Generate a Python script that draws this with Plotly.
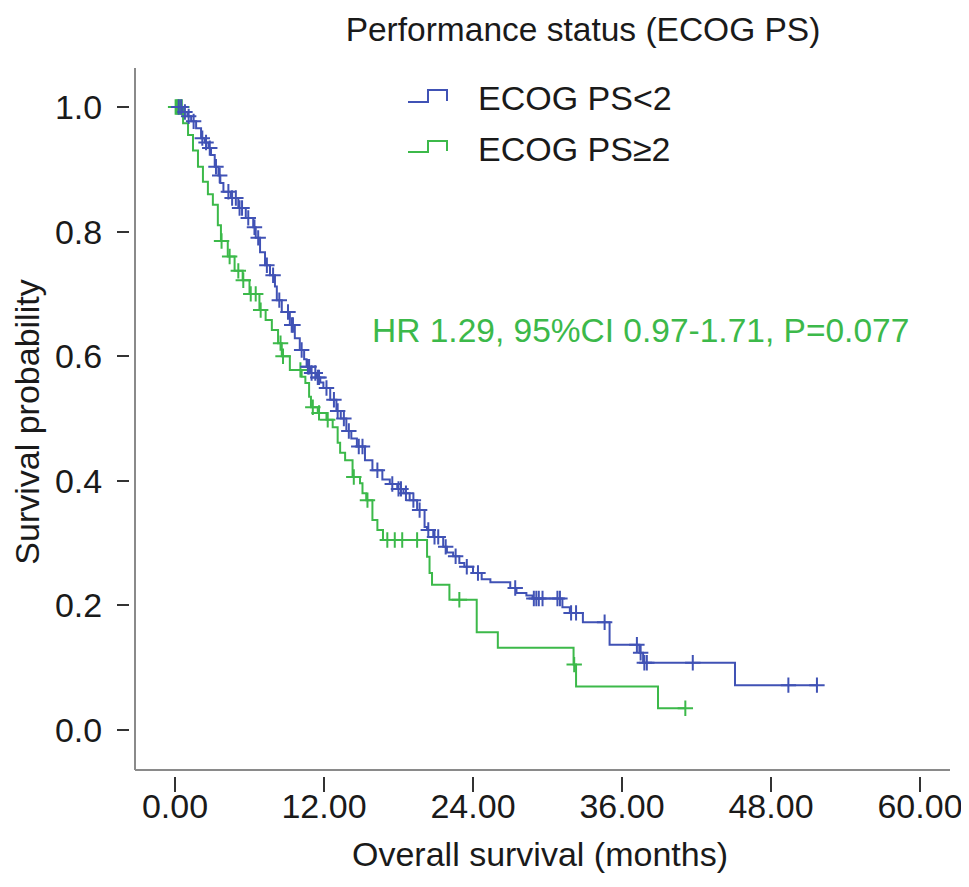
import plotly.graph_objects as go

# ---------------- data ----------------
series_names = ["ECOG PS<2", "ECOG PS\u22652"]

blue_event_t = [0.6, 1.0, 1.3, 1.7, 2.1, 2.4, 2.7, 2.9, 3.2, 3.5, 3.65, 3.9, 4.5, 5.1, 5.7,
                6.3, 6.5, 6.85, 7.25, 7.65, 8.05, 8.2, 8.6, 9.25, 9.65, 10.05, 10.4, 10.6, 10.9, 11.4,
                11.7, 11.95, 12.5, 13.0, 13.35, 13.8, 14.2, 14.65, 15.3, 15.9, 16.7, 17.3, 17.9, 18.4, 18.9,
                19.5, 20.1, 20.3, 20.8, 21.6, 21.9, 22.4, 22.9, 23.3, 24.0, 24.7, 25.4, 27.0, 27.5, 28.3,
                28.8, 31.2, 31.8, 32.85, 35.0, 37.4, 37.7, 45.1]
blue_event_s = [0.992, 0.985, 0.977, 0.966, 0.95, 0.943, 0.934, 0.923, 0.904, 0.89, 0.878, 0.864, 0.854, 0.838, 0.822,
                0.807, 0.79, 0.767, 0.746, 0.73, 0.712, 0.69, 0.671, 0.65, 0.629, 0.61, 0.595, 0.583, 0.573, 0.566,
                0.558, 0.549, 0.53, 0.512, 0.5, 0.48, 0.468, 0.455, 0.433, 0.417, 0.402, 0.395, 0.387, 0.38, 0.369,
                0.353, 0.326, 0.321, 0.31, 0.294, 0.285, 0.279, 0.268, 0.262, 0.252, 0.242, 0.237, 0.228, 0.22, 0.216,
                0.211, 0.197, 0.188, 0.173, 0.137, 0.124, 0.108, 0.072]
blue_censor_t = [0.3, 0.5, 0.8, 1.1, 1.5, 2.2, 2.5, 2.8, 3.3, 3.6, 4.3, 4.6, 4.9, 5.2, 5.4, 5.9, 6.4, 6.7,
                 7.4, 7.9, 8.4, 9.1, 9.4, 9.5, 10.2, 10.7, 10.8, 11.0, 11.3, 11.5, 11.6, 12.2, 12.8, 13.1,
                 13.6, 14.0, 14.8, 15.1, 16.3, 17.5, 18.0, 18.2, 18.6, 19.2, 19.7, 20.4, 20.9, 21.2, 21.8,
                 22.6, 23.5, 24.4, 27.4, 28.9, 29.1, 29.3, 29.6, 30.8, 31.0, 31.9, 32.3, 34.6, 37.2, 37.5,
                 37.8, 38.0, 41.7, 49.4, 51.7]

green_event_t = [0.65, 1.05, 1.45, 1.85, 2.25, 2.65, 3.05, 3.45, 3.7, 4.25, 4.8, 5.45, 6.0, 6.8, 7.3,
                 7.8, 8.3, 8.6, 9.25, 10.2, 10.5, 10.8, 10.95, 11.5, 12.2, 12.7, 13.1, 13.3, 13.7, 14.3,
                 14.9, 15.1, 15.4, 15.9, 16.3, 16.75, 20.3, 20.5, 20.7, 22.1, 24.3, 26.0, 32.1, 32.3, 38.9]
green_event_s = [0.974, 0.955, 0.93, 0.904, 0.88, 0.86, 0.843, 0.81, 0.785, 0.76, 0.737, 0.722, 0.7, 0.674, 0.658,
                 0.642, 0.621, 0.6, 0.578, 0.567, 0.557, 0.535, 0.518, 0.509, 0.498, 0.486, 0.461, 0.445, 0.433, 0.406,
                 0.396, 0.38, 0.369, 0.337, 0.321, 0.305, 0.278, 0.252, 0.233, 0.209, 0.157, 0.132, 0.105, 0.07, 0.035]
green_censor_t = [0.05, 0.15, 0.25, 0.35, 0.45, 0.55, 3.75, 4.4, 5.1, 5.5, 6.1, 6.5, 6.9, 8.5, 8.7, 10.1,
                  11.1, 11.6, 12.3, 14.4, 15.5, 17.1, 17.7, 18.3, 19.5, 22.9, 32.15, 41.1]

x_ticks = [0, 12, 24, 36, 48, 60]
x_tick_labels = ["0.00", "12.00", "24.00", "36.00", "48.00", "60.00"]
y_ticks = [0.0, 0.2, 0.4, 0.6, 0.8, 1.0]
y_tick_labels = ["0.0", "0.2", "0.4", "0.6", "0.8", "1.0"]

title_text = "Performance status (ECOG PS)"
hr_text = "HR 1.29, 95%CI 0.97-1.71, P=0.077"
x_title = "Overall survival (months)"
y_title = "Survival probability"

# ---------------- styling ----------------
BLUE = "#4052b5"
GREEN = "#3cb94a"
TXT = "#1a1a1a"
FONT = "Liberation Sans, Arial, sans-serif"
FS = 34
OFF = 8                      # default page margin of the html body
W, H = 969 - OFF, 887 - 2 * OFF
ML, MT = 130 - OFF, 68 - OFF
MR = W - (950 - OFF)
MB = H - (776 - OFF)
pw = W - ML - MR
ph = H - MT - MB


def step_path(ts, ss, censors):
    end = max(censors + ts)
    return [0.0] + list(ts) + [end], [1.0] + list(ss) + [ss[-1]]


def surv_at(t, ts, ss):
    s = 1.0
    for ti, si in zip(ts, ss):
        if ti <= t:
            s = si
    return s


def px_x(sx):
    return (sx - OFF - ML) / pw


def px_y(sy):
    return (H - MB - (sy - OFF)) / ph


fig = go.Figure()

groups = [
    (series_names[1], green_event_t, green_event_s, green_censor_t, GREEN, 2),
    (series_names[0], blue_event_t, blue_event_s, blue_censor_t, BLUE, 1),
]
for name, ts, ss, cs, col, rank in groups:
    lx, ly = step_path(ts, ss, cs)
    fig.add_trace(go.Scatter(x=lx, y=ly, mode="lines", line=dict(color=col, width=2, shape="hv"),
                             name=name, showlegend=False, hoverinfo="skip"))
    fig.add_trace(go.Scatter(x=cs, y=[surv_at(c, ts, ss) for c in cs], mode="markers",
                             marker=dict(symbol="cross-thin", size=11, line=dict(color=col, width=2)),
                             name=name, showlegend=False, hoverinfo="skip"))
    # legend entry (its step-shaped key is drawn below as a small path)
    fig.add_trace(go.Scatter(x=[None], y=[None], mode="lines", line=dict(color=col, width=0),
                             name=name, legendgroup=name, legendrank=rank, hoverinfo="skip"))

# legend keys in the step style of the reference
for (sy_low, sy_high), col in [((102, 90), BLUE), ((152, 141), GREEN)]:
    pts = [(408, sy_low), (428, sy_low), (428, sy_high), (447, sy_high), (447, sy_low - 1)]
    path = "M " + " L ".join(f"{px_x(a):.5f},{px_y(b):.5f}" for a, b in pts)
    fig.add_shape(type="path", xref="paper", yref="paper", path=path,
                  line=dict(color=col, width=2))

# axis lines, set slightly off the tick roots as in the reference
gx = 5 / pw
gy = 6 / ph
fig.add_shape(type="line", xref="paper", yref="paper", x0=gx, x1=gx, y0=gy, y1=1,
              line=dict(color="#8a8a8a", width=2))
fig.add_shape(type="line", xref="paper", yref="paper", x0=gx, x1=1, y0=gy, y1=gy,
              line=dict(color="#8a8a8a", width=2))

fig.add_annotation(text=hr_text, xref="paper", yref="paper", x=px_x(640), y=px_y(330),
                   xanchor="center", yanchor="middle", showarrow=False,
                   font=dict(family=FONT, size=33.5, color=GREEN))

fig.update_layout(
    width=W, height=H,
    margin=dict(l=ML, r=MR, t=MT, b=MB, autoexpand=False),
    paper_bgcolor="white", plot_bgcolor="white",
    font=dict(family=FONT, size=FS, color=TXT),
    title=dict(text=title_text, x=px_x(583), xref="paper", xanchor="center",
               y=1 - (29 - OFF) / H, yanchor="middle", font=dict(family=FONT, size=33.5, color=TXT)),
    showlegend=True,
    legend=dict(x=px_x(408), y=px_y(68), xanchor="left", yanchor="top",
                bgcolor="rgba(0,0,0,0)", font=dict(family=FONT, size=FS, color=TXT),
                tracegroupgap=4, itemwidth=60),
    xaxis=dict(range=[-3.624, 62.416], tickvals=x_ticks, ticktext=x_tick_labels,
               showgrid=False, zeroline=False, showline=False,
               ticks="outside", ticklen=15, tickwidth=2, tickcolor="#333333",
               ticklabelstandoff=-15,
               title=dict(text=x_title, standoff=18, font=dict(size=FS)), tickfont=dict(size=FS)),
    yaxis=dict(range=[-0.0738, 1.0626], tickvals=y_ticks, ticktext=y_tick_labels,
               showgrid=False, zeroline=False, showline=False,
               ticks="outside", ticklen=12, tickwidth=2, tickcolor="#333333",
               ticklabelstandoff=8,
               title=dict(text=y_title, standoff=14, font=dict(size=FS)), tickfont=dict(size=FS)),
)

fig.write_html("out.html")
